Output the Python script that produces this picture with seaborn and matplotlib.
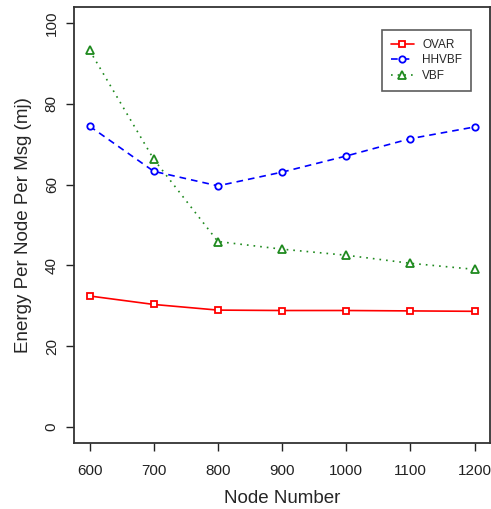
import matplotlib
matplotlib.use("Agg")
import matplotlib.pyplot as plt
import seaborn as sns
import pandas as pd

# values
node_number = [600, 700, 800, 900, 1000, 1100, 1200]
ovar = [32.4, 30.3, 28.9, 28.8, 28.8, 28.7, 28.6]
hhvbf = [74.5, 63.3, 59.7, 63.1, 67.1, 71.4, 74.3]
vbf = [93.3, 66.3, 45.9, 44.0, 42.5, 40.5, 39.0]
y_ticks = [0, 20, 40, 60, 80, 100]

sns.set_style("ticks")
plt.rcParams['font.family'] = ['Liberation Sans', 'DejaVu Sans']

fig = plt.figure(figsize=(4.91, 5.09), dpi=100)
ax = fig.add_axes([0.151, 0.130, 0.847, 0.856])

# name, values, colour, line style, marker, marker size
series = [
    ("OVAR", ovar, "red", "-", "s", 4.6),
    ("HHVBF", hhvbf, "blue", (0, (4, 3)), "o", 4.6),
    ("VBF", vbf, "#1f8a1f", (0, (1, 3)), "^", 5.8),
]
for name, vals, color, ls, mk, ms in series:
    df = pd.DataFrame({"x": node_number, "y": vals})
    sns.lineplot(data=df, x="x", y="y", ax=ax, color=color, linestyle=ls,
                 marker=mk, markersize=ms, markerfacecolor="white",
                 markeredgecolor=color, markeredgewidth=1.3, linewidth=1.2,
                 label=name)

ax.set_xlim(576, 1224)
ax.set_ylim(-4, 104)
ax.set_xticks(node_number)
ax.set_yticks(y_ticks)
ax.set_yticklabels([str(t) for t in y_ticks], rotation=90, va="center")
ax.tick_params(axis="both", direction="out", length=6, width=1, labelsize=11, colors="#222222")
ax.tick_params(axis="x", pad=9)
ax.tick_params(axis="y", pad=5)
for sp in ax.spines.values():
    sp.set_visible(True)
    sp.set_linewidth(1.3)
    sp.set_color("#333333")

ax.set_xlabel("Node Number", fontsize=13.5, labelpad=9)
ax.set_ylabel("Energy Per Node Per Msg (mj)", fontsize=13.5, labelpad=9)

leg = ax.legend(loc="upper right", bbox_to_anchor=(0.955, 0.948), fontsize=8.5,
                frameon=True, fancybox=False, handlelength=2.0,
                borderpad=0.75, labelspacing=0.3, handletextpad=0.7,
                borderaxespad=0)
leg.get_frame().set_edgecolor("#333333")
leg.get_frame().set_linewidth(1.2)

fig.savefig("out.png", dpi=100)
